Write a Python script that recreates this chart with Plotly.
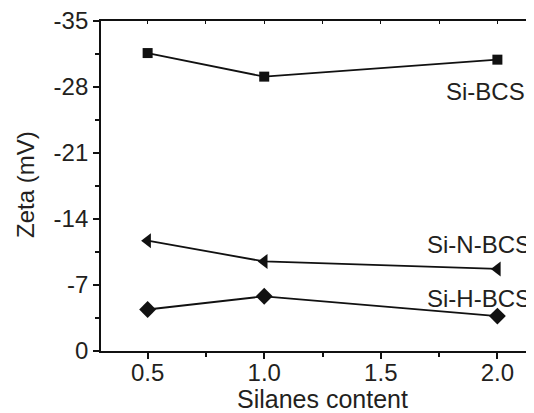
import plotly.graph_objects as go

x_vals = [0.5, 1.0, 2.0]
si_bcs = [-31.6, -29.1, -30.9]
si_n_bcs = [-11.7, -9.5, -8.7]
si_h_bcs = [-4.4, -5.8, -3.7]

series_names = ["Si-BCS", "Si-N-BCS", "Si-H-BCS"]
x_ticks = [0.5, 1.0, 1.5, 2.0]
x_tick_text = ["0.5", "1.0", "1.5", "2.0"]
y_ticks = [0, -7, -14, -21, -28, -35]
y_tick_text = ["0", "-7", "-14", "-21", "-28", "-35"]

FONT = "Liberation Sans, Arial, sans-serif"
TXT = "#231f20"
LC = "#111111"

W, H = 526, 405
L, T, B, R = 93, 13, 62, 0
PW, PH = W - L - R, H - T - B

fig = go.Figure()
markers = ["square", "triangle-left", "diamond"]
sizes = [10, 13, 13]
for name, ys, sym, sz in zip(series_names, [si_bcs, si_n_bcs, si_h_bcs], markers, sizes):
    fig.add_trace(go.Scatter(
        x=x_vals, y=ys, mode="lines+markers", name=name,
        line=dict(color=LC, width=1.8),
        marker=dict(symbol=sym, size=sz, color=LC),
        showlegend=False,
    ))

# invisible trace for top axis
fig.add_trace(go.Scatter(x=[0.5], y=[0], xaxis="x2", mode="markers",
                         marker=dict(opacity=0), showlegend=False, hoverinfo="skip"))

label_pos = [(1.95, -27.5), (1.92, -11.3), (1.92, -5.6)]
for name, (lx, ly) in zip(series_names, label_pos):
    fig.add_annotation(x=lx, y=ly, text=name, showarrow=False,
                       xanchor="center", yanchor="middle",
                       font=dict(family=FONT, size=24, color=TXT))

# axis titles
fig.add_annotation(xref="paper", yref="paper", x=(17 - L) / PW, y=1 - (177 - T) / PH,
                   text="Zeta (mV)", textangle=-90, showarrow=False,
                   xanchor="center", yanchor="middle",
                   font=dict(family=FONT, size=24, color=TXT))
fig.add_annotation(xref="paper", yref="paper", x=(314 - L) / PW, y=1 - (391 - T) / PH,
                   text="Silanes content", showarrow=False,
                   xanchor="center", yanchor="middle",
                   font=dict(family=FONT, size=25, color=TXT))

fig.update_layout(
    width=W, height=H,
    margin=dict(l=L, r=R, t=T, b=B, pad=0),
    paper_bgcolor="white", plot_bgcolor="white",
    font=dict(family=FONT, size=24, color=TXT),
    xaxis=dict(
        range=[0.3, 2.157], tickvals=x_ticks, ticktext=x_tick_text,
        showline=True, linecolor=LC, linewidth=1.8,
        ticks="outside", ticklen=6, tickwidth=1.5, tickcolor=LC,
        minor=dict(tickvals=[0.75, 1.25, 1.75], ticks="outside", ticklen=4,
                   tickwidth=1.5, tickcolor=LC),
        showgrid=False, zeroline=False,
        tickfont=dict(size=24), ticklabelstandoff=-7,
        ticklabeloverflow="allow",
    ),
    xaxis2=dict(
        overlaying="x", side="top", range=[0.3, 2.157],
        showline=True, linecolor=LC, linewidth=1.5,
        tickvals=[0.5, 0.75, 1.0, 1.25, 1.5, 1.75, 2.0], showticklabels=False,
        ticks="inside", ticklen=3, tickwidth=1.2, tickcolor=LC,
        showgrid=False, zeroline=False,
    ),
    yaxis=dict(
        range=[0, -35], tickvals=y_ticks, ticktext=y_tick_text,
        showline=True, linecolor=LC, linewidth=1.8,
        ticks="outside", ticklen=6, tickwidth=1.5, tickcolor=LC,
        minor=dict(tickvals=[-3.5, -10.5, -17.5, -24.5, -31.5], ticks="outside",
                   ticklen=4, tickwidth=1.5, tickcolor=LC),
        showgrid=False, zeroline=False,
        tickfont=dict(size=24), ticklabeloverflow="allow",
    ),
)

fig.write_html("out.html")
